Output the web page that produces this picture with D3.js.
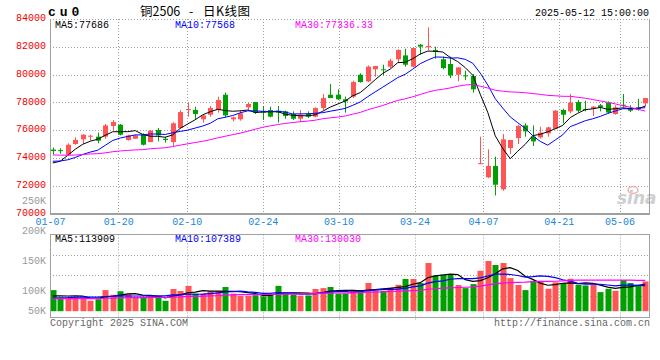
<!DOCTYPE html>
<html><head><meta charset="utf-8">
<script src="https://cdn.jsdelivr.net/npm/d3@7/dist/d3.min.js"></script>
<style>
html,body{margin:0;padding:0;background:#fff;}
svg{display:block;}
text{font-family:"Liberation Mono","DejaVu Sans Mono",monospace;font-size:10px;}
</style></head><body>
<svg id="chart" width="660" height="360"></svg>
<script>
// ---------------- data ----------------
const dates = ["01-07","01-08","01-09","01-10","01-13","01-14","01-15","01-16","01-17","01-20",
"01-21","01-22","01-23","01-24","01-27","02-05","02-06","02-07","02-10","02-11",
"02-12","02-13","02-14","02-17","02-18","02-19","02-20","02-21","02-24","02-25",
"02-26","02-27","02-28","03-03","03-04","03-05","03-06","03-07","03-10","03-11",
"03-12","03-13","03-14","03-17","03-18","03-19","03-20","03-21","03-24","03-25",
"03-26","03-27","03-28","03-31","04-01","04-02","04-03","04-07","04-08","04-09",
"04-10","04-11","04-14","04-15","04-16","04-17","04-18","04-21","04-22","04-23",
"04-24","04-25","04-28","04-29","04-30","05-06","05-07","05-08","05-09","05-12"];

const open = [74600,74560,74230,75000,75340,75530,75530,75530,76300,76390,
75290,75380,75720,75140,76010,75380,75140,76150,77480,77450,
76780,77110,77450,78550,76780,76780,77640,78020,77350,77450,
77400,77350,77160,76820,77210,76970,77590,78550,78550,78220,
78410,79990,79510,80380,80380,80570,81100,81380,80570,82150,
81960,81770,81100,80760,79990,79940,79900,73600,72600,73420,
71740,74710,75430,76340,75530,75480,75770,76100,77450,77350,
78020,77520,77540,77790,77980,77160,77830,77590,77640,77930];

const high = [74750,74700,75050,75480,75720,75670,75820,76440,76730,76440,
75670,75670,75770,76010,76150,75530,76580,77450,78000,77690,
77110,77740,78410,78700,76970,77450,77980,78020,77740,77690,
77740,77400,77350,77450,77350,77640,78600,79320,78940,78410,
79560,80090,80660,80620,80710,81140,81820,81860,81960,82200,
83400,82010,81290,81290,80520,80280,80040,75530,74620,74090,
75720,75290,76390,76490,76340,76250,76250,77450,77540,78600,
78170,78120,77740,77880,78070,77790,78600,77790,78260,78310];

const low = [74250,74300,74200,74950,75000,75240,75050,75380,76000,75620,
75240,75380,74900,75140,75190,75100,74810,76100,76970,76730,
76540,76970,77260,76920,76630,76680,77450,77160,76730,76920,
76540,76820,76730,76580,76870,76920,77450,78310,78170,77260,
78310,79420,79460,79850,79940,80470,80860,80570,80520,81430,
81770,81140,80380,79750,79510,79610,78700,73560,72550,71300,
71640,74280,75000,75530,74860,75380,75530,76060,76490,77210,
77300,77350,77020,77350,77210,77110,77640,77300,77400,77690];

const close = [74500,74500,74950,75290,75670,75600,75240,76340,76580,75670,
75620,75620,74950,75960,75620,75290,76490,77300,77520,77160,
77060,77590,78170,77060,76920,77210,77880,77260,77260,76970,
77260,77020,76820,77110,76970,77590,78310,78310,78220,78070,
79460,79460,80570,80620,80330,81000,81770,80710,81910,82010,
82060,81670,80470,79940,80520,79900,78940,73620,73420,72070,
75340,75290,76300,75910,75190,75820,76200,77400,77110,77980,
77400,77480,77690,77640,77260,77640,77790,77400,77540,78310];

// volume in thousands of lots
const volume = [86,52,52,55,52,38,45,86,65,81,
68,52,53,59,55,38,91,82,105,70,
70,81,82,100,70,60,60,63,58,68,
105,70,66,61,62,91,95,100,70,70,
87,86,118,83,82,98,110,136,136,118,
208,152,156,154,109,95,113,173,217,199,
208,140,109,86,128,125,92,121,118,137,
110,107,110,77,92,83,131,118,110,125];

// closes / volumes before 01-07 (history behind the moving averages)
const priorCloses = [74800,75200,74900,74600,74300,74700,74500,74200,74000,74400,
74600,74300,74100,74500,74200,73900,74300,74600,74400,74300,
74300,74100,73600,73500,73900,73900,72800,73100,73900];
const priorVolumes = [40,45,50,42,48,44,46,50,43,47,45,49,44,46,48,42,47,45,50,44,
38,42,36,40,44,50,56,52,55];

const priceTicks = [70000,72000,74000,76000,78000,80000,82000,84000];
const dateTicks = ["01-07","01-20","02-10","02-24","03-10","03-24","04-07","04-21","05-06"];
const volTickLabels = ["250K","200K","150K","100K","50K"];
const volTickValues = [250,200,150,100,50];

const priceMALabels = ["MA5:77686","MA10:77568","MA30:77336.33"];
const volMALabels = ["MA5:113909","MA10:107389","MA30:130030"];
const maColors = ["#000000","#0000ff","#ff00ff"];
const maPeriods = [5,10,30];
const titleParts = ["铜2506","-","日K线图"];

// ---------------- layout ----------------
const svg = d3.select("#chart");
const L = 50, R = 650;
const mTop = 19, mBot = 213.5;
const vTop = 234.5, vBot = 317.5;
const UP = "#ff5555", DOWN = "#00a000";
const GRID = "#a0a0a0", BORDER = "#a0a0a0";

const idx = d3.range(dates.length);
const xBand = d3.scaleBand().domain(idx).range([49, 649]);
const xc = i => xBand(i) + xBand.bandwidth() / 2;
const xGrid = d3.scalePoint().domain(idx).range([L, R]);

const y = d3.scaleLinear().domain([70000, 84000]).range([mBot, mTop]);
const yVol = d3.scaleLinear().domain([0, 200]).range([309.2, 264.8]);
const yVolLabel = d3.scaleLinear().domain([100, 250]).range([290.7, 200.7]);

function movingAvg(series, prior, n) {
  const all = prior.concat(series);
  return series.map((_, i) => {
    const end = prior.length + i;
    return d3.mean(all.slice(end - n + 1, end + 1));
  });
}

const tickIdx = dateTicks.map(d => dates.indexOf(d));

// ---------------- grid ----------------
const g = svg.append("g");
g.selectAll(".hg").data(priceTicks.filter(v => v > 70000)).join("line")
  .attr("x1", L).attr("x2", R)
  .attr("y1", d => Math.round(y(d)) + 0.5).attr("y2", d => Math.round(y(d)) + 0.5)
  .attr("stroke", GRID).attr("stroke-dasharray", "1,2");
g.selectAll(".vg").data(tickIdx.filter(i => i > 0)).join("line")
  .attr("x1", d => Math.round(xGrid(d)) + 0.5).attr("x2", d => Math.round(xGrid(d)) + 0.5)
  .attr("y1", mTop).attr("y2", mBot)
  .attr("stroke", GRID).attr("stroke-dasharray", "1,2");
g.selectAll(".vg2").data(tickIdx.filter(i => i > 0)).join("line")
  .attr("x1", d => Math.round(xGrid(d)) + 0.5).attr("x2", d => Math.round(xGrid(d)) + 0.5)
  .attr("y1", vTop).attr("y2", vBot + 4)
  .attr("stroke", GRID).attr("stroke-dasharray", "1,2");
g.selectAll(".vhg").data([1,2,3]).join("line")
  .attr("x1", L).attr("x2", R)
  .attr("y1", d => Math.round(vTop + d * 20.4) + 0.5).attr("y2", d => Math.round(vTop + d * 20.4) + 0.5)
  .attr("stroke", GRID).attr("stroke-dasharray", "1,2");

// ---------------- watermark ----------------
svg.append("ellipse").attr("cx", 633).attr("cy", 190).attr("rx", 5).attr("ry", 3.5)
  .attr("fill", "none").attr("stroke", "#f3b0b0").attr("stroke-width", 1.5);
svg.append("text").attr("x", 617).attr("y", 204).text("sina")
  .style("font-family", "'DejaVu Sans',sans-serif").style("font-size", "17px")
  .style("font-style", "italic").style("font-weight", "bold").attr("fill", "#cfcfcf");

// ---------------- candles ----------------
const cg = svg.append("g");
const cx = i => Math.round(xc(i));
const col = i => close[i] >= open[i] ? UP : DOWN;
cg.selectAll(".wick").data(idx).join("line")
  .attr("x1", i => cx(i) + 0.5).attr("x2", i => cx(i) + 0.5)
  .attr("y1", i => y(high[i])).attr("y2", i => y(low[i]))
  .attr("stroke", col);
cg.selectAll(".body").data(idx).join("rect")
  .attr("x", i => cx(i) - 2).attr("width", 5)
  .attr("y", i => y(Math.max(open[i], close[i])))
  .attr("height", i => Math.max(1, Math.abs(y(open[i]) - y(close[i]))))
  .attr("fill", col);

// ---------------- price MAs ----------------
maPeriods.forEach((n, k) => {
  const ma = movingAvg(close, priorCloses, n);
  svg.append("path").datum(ma)
    .attr("d", d3.line().x((d, i) => xc(i)).y(d => y(d)))
    .attr("fill", "none").attr("stroke", maColors[k]).attr("stroke-width", 1);
});

// ---------------- volume ----------------
const vg = svg.append("g");
vg.selectAll("rect").data(idx).join("rect")
  .attr("x", i => cx(i) - 2.5).attr("width", 6)
  .attr("y", i => yVol(volume[i]))
  .attr("height", i => yVol(0) + 2 - yVol(volume[i]))
  .attr("fill", col);
maPeriods.forEach((n, k) => {
  const ma = movingAvg(volume, priorVolumes, n);
  svg.append("path").datum(ma)
    .attr("d", d3.line().x((d, i) => xc(i)).y(d => yVol(d)))
    .attr("fill", "none").attr("stroke", maColors[k]).attr("stroke-width", 1.2);
});

// ---------------- borders ----------------
const b = svg.append("g").attr("stroke", BORDER).attr("fill", "none");
b.append("line").attr("x1", L + 0.5).attr("x2", L + 0.5).attr("y1", mTop).attr("y2", mBot + 1);
b.append("line").attr("x1", R - 0.5).attr("x2", R - 0.5).attr("y1", mTop).attr("y2", mBot + 1);
b.append("line").attr("x1", L).attr("x2", R).attr("y1", mTop + 0.5).attr("y2", mTop + 0.5).attr("stroke-dasharray", "1,2");
b.append("line").attr("x1", L).attr("x2", R).attr("y1", mBot + 0.5).attr("y2", mBot + 0.5).attr("stroke-width", 2);
b.append("rect").attr("x", L + 0.5).attr("y", vTop).attr("width", R - L - 1).attr("height", vBot - vTop);

// ---------------- axes ----------------
const ya = svg.append("g").attr("transform", `translate(${L},0)`)
  .call(d3.axisLeft(y).tickValues(priceTicks).tickFormat(d3.format("d")).tickSize(0).tickPadding(4));
ya.select(".domain").remove();
ya.selectAll("text").attr("y", -1.5).attr("fill", "#ee0000")
  .style("font-family", "'Liberation Mono',monospace").style("font-size", "10px");

const xa = svg.append("g").attr("transform", `translate(0,${mBot})`)
  .call(d3.axisBottom(xGrid).tickValues(tickIdx).tickFormat(i => dates[i]).tickSize(0).tickPadding(4));
xa.select(".domain").remove();
xa.selectAll("text").attr("fill", "#1a86d6")
  .style("font-family", "'Liberation Mono',monospace").style("font-size", "10px");

svg.append("g").selectAll("text").data(volTickValues).join("text")
  .attr("x", 46).attr("y", v => Math.min(yVolLabel(v), vBot - 7))
  .attr("dy", "0.35em").attr("text-anchor", "end").attr("fill", "#999")
  .text((v, k) => volTickLabels[k]);

// ---------------- texts ----------------
svg.append("text").attr("x", 48).attr("y", 16).text("cu0")
  .style("font-size", "13px").style("font-weight", "bold").style("letter-spacing", "4px").attr("fill", "#000");
const titleX = [140, 189, 203];
titleParts.forEach((t, k) => svg.append("text").attr("x", titleX[k]).attr("y", 16).attr("fill", "#000")
  .style("font-family", "'Noto Sans CJK SC',sans-serif").style("font-size", "12.5px")
  .style("letter-spacing", k === 2 ? "0.5px" : "0px").text(t));
svg.append("text").attr("x", 649).attr("y", 15.5).attr("text-anchor", "end").attr("fill", "#000")
  .text("2025-05-12 15:00:00");

const maX = [55, 175, 295];
priceMALabels.forEach((t, k) => svg.append("text").attr("x", maX[k]).attr("y", 27.5).attr("fill", maColors[k]).text(t));
volMALabels.forEach((t, k) => svg.append("text").attr("x", maX[k]).attr("y", 242).attr("fill", maColors[k]).text(t));

svg.append("text").attr("x", 50).attr("y", 326).attr("fill", "#666").text("Copyright 2025 SINA.COM");
svg.append("text").attr("x", 650).attr("y", 326).attr("text-anchor", "end").attr("fill", "#666").text("http://finance.sina.com.cn");
</script>
</body></html>
